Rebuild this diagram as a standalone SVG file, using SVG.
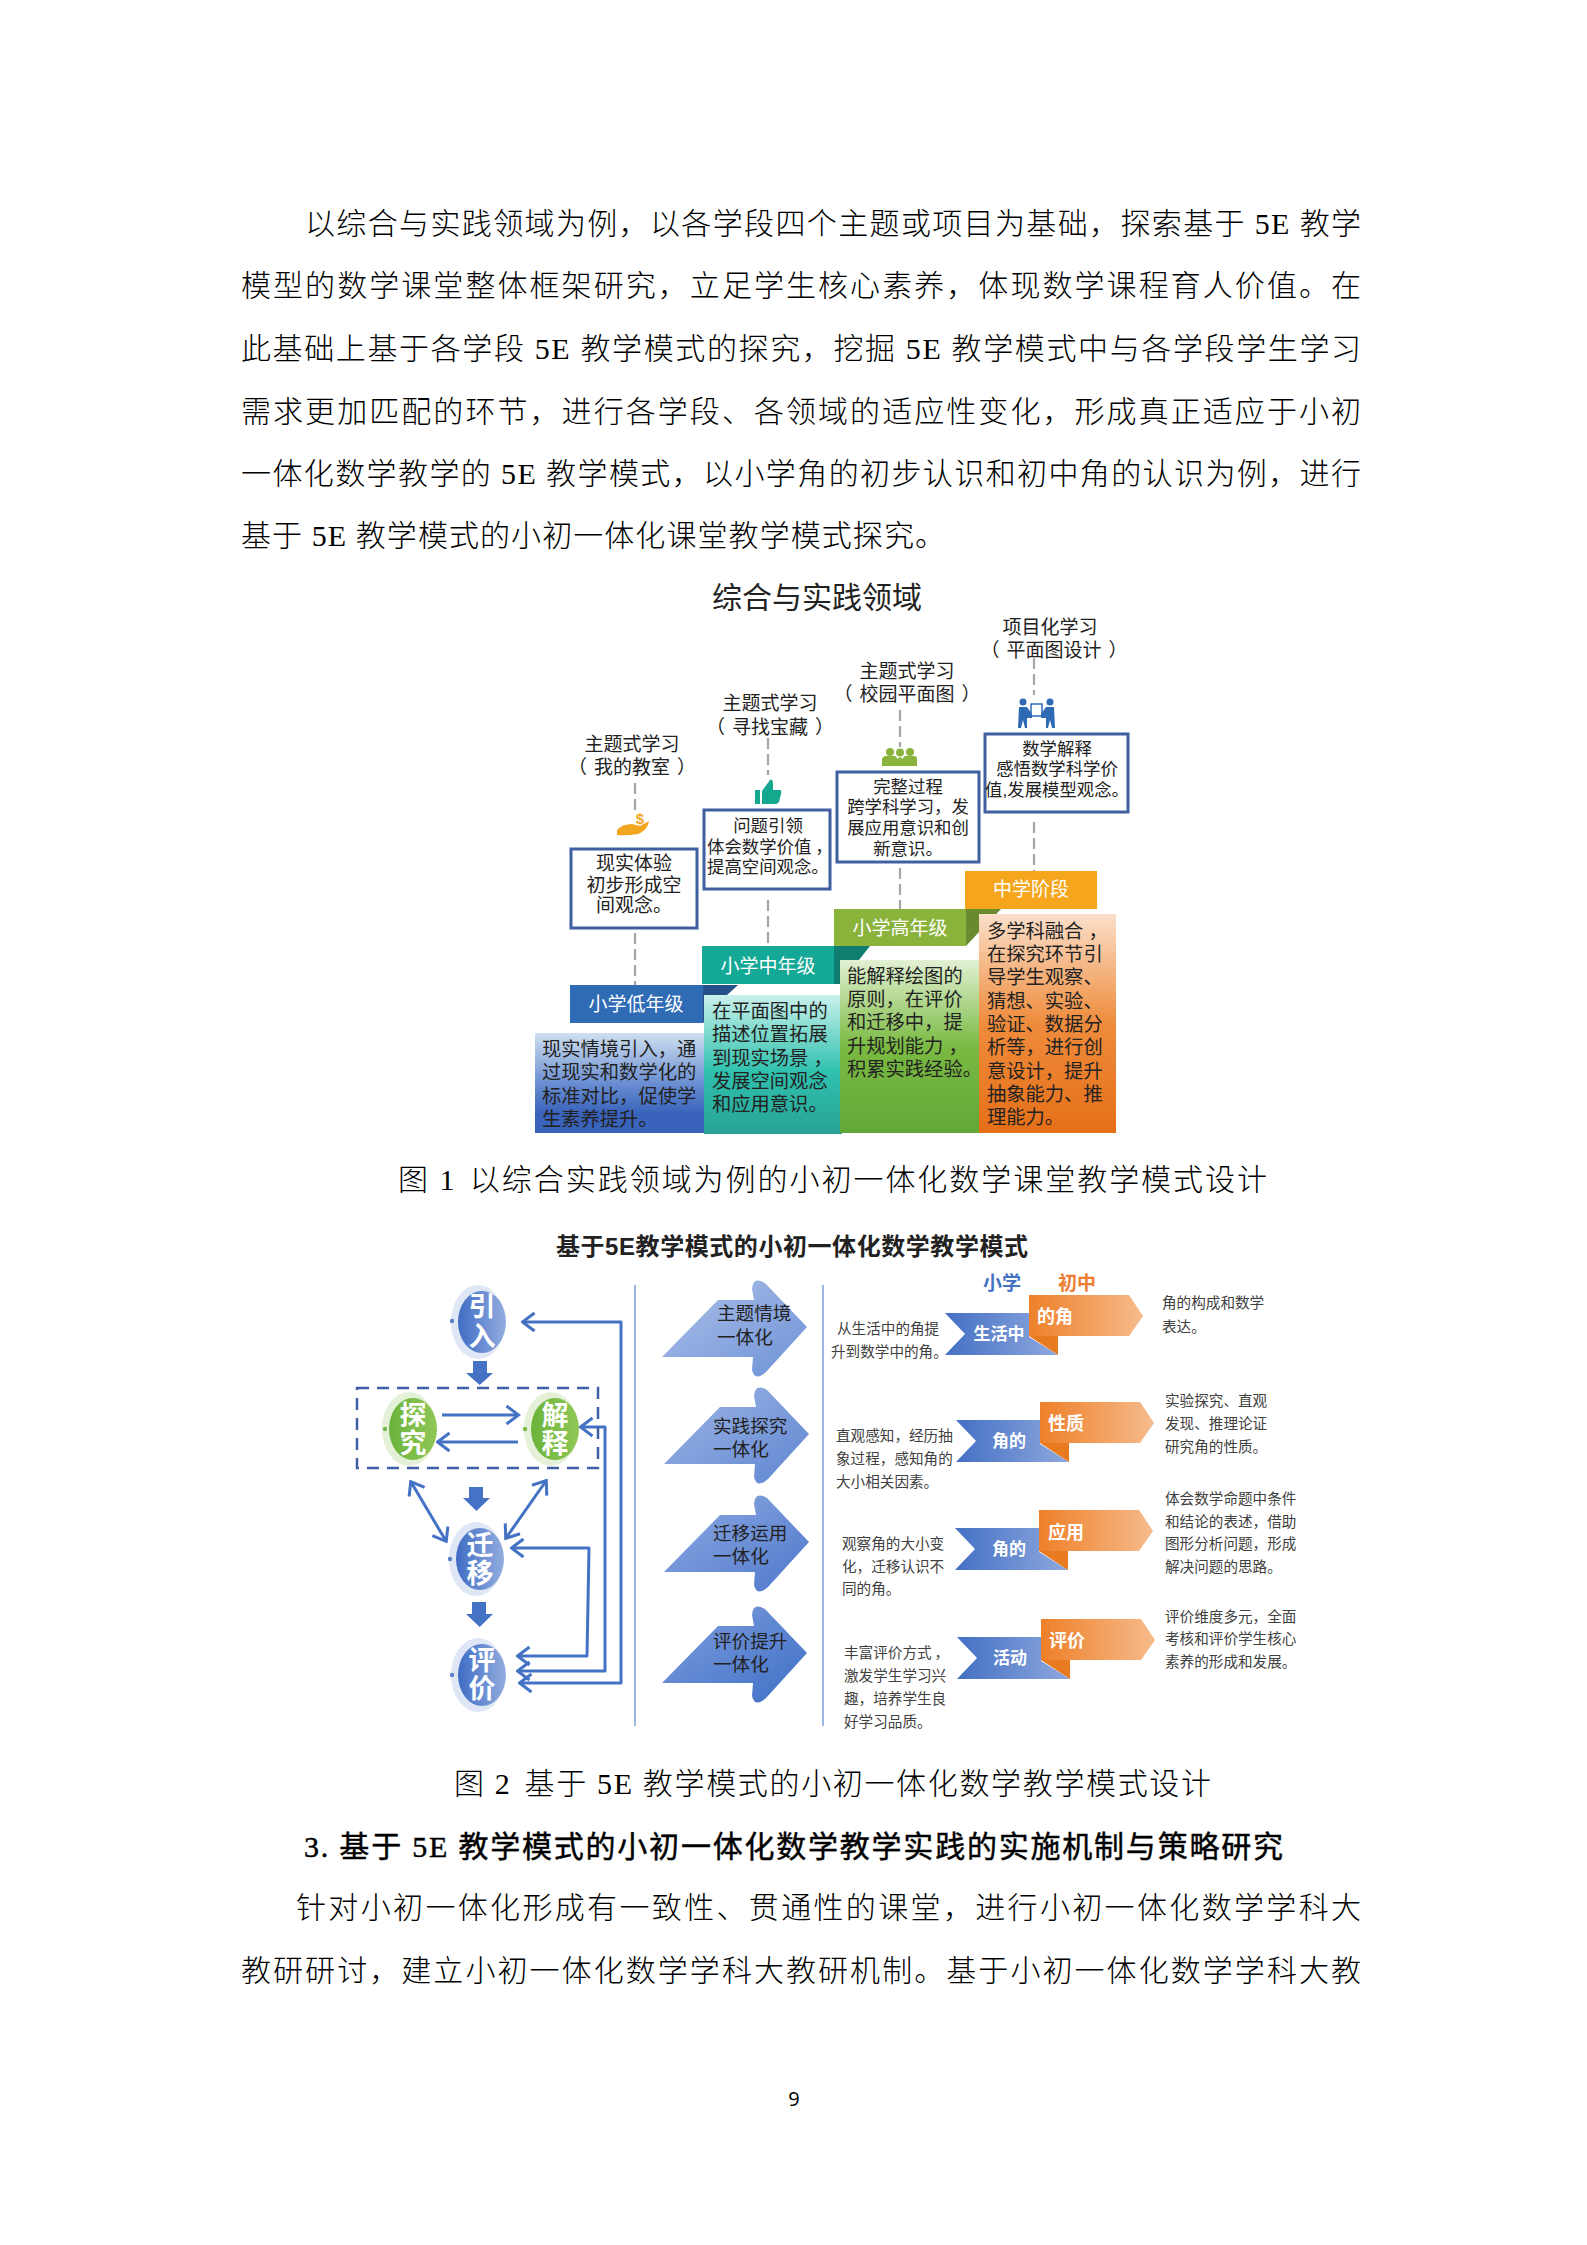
<svg xmlns="http://www.w3.org/2000/svg" width="1587" height="2245" viewBox="0 0 1587 2245">
<style>
text{font-family:"Liberation Sans","Noto Sans CJK SC",sans-serif;fill:#222}
.body text,text.body{font-family:"Liberation Serif","Noto Sans CJK SC",serif;font-size:30px;font-weight:300;fill:#000}
.c{text-anchor:middle}
.lb{font-size:19px}
.bx{font-size:17.4px}
.pn{font-size:19.3px}
.hd{font-size:19px;fill:#fff;text-anchor:middle}
.ar{font-size:18.6px}
.sm{font-size:14.6px;fill:#404040}
.rb{font-weight:700;fill:#fff;text-anchor:middle;font-size:17px}
.rb2{font-weight:700;fill:#fff;text-anchor:middle;font-size:18px}
.ci{font-weight:700;fill:#fff;text-anchor:middle;font-size:27px}
.box{fill:#fff;stroke:#3f5fa0;stroke-width:3}
.dash{fill:none;stroke:#a6a6a6;stroke-width:2.2;stroke-dasharray:11 5}
.cn{fill:none;stroke:#4472c4;stroke-width:3;stroke-linejoin:round}
.blk{fill:#4472c4}
</style>
<defs>
<marker id="oh" markerUnits="userSpaceOnUse" markerWidth="18" markerHeight="22" refX="15.5" refY="11" orient="auto-start-reverse" viewBox="0 0 18 22"><path d="M4,2 L16,11 L4,20" fill="none" stroke="#4472c4" stroke-width="3"/></marker>
<linearGradient id="gb" x1="0" y1="0" x2="0" y2="1"><stop offset="0" stop-color="#cfe0ef"/><stop offset=".5" stop-color="#6b8fd2"/><stop offset=".8" stop-color="#3a63bb"/><stop offset="1" stop-color="#3a63bb"/></linearGradient>
<linearGradient id="gt" x1="0" y1="0" x2="0" y2="1"><stop offset="0" stop-color="#c9f1ec"/><stop offset=".55" stop-color="#30c1ae"/><stop offset="1" stop-color="#27a395"/></linearGradient>
<linearGradient id="gg" x1="0" y1="0" x2="0" y2="1"><stop offset="0" stop-color="#e2f1d3"/><stop offset=".5" stop-color="#7aba42"/><stop offset="1" stop-color="#62a838"/></linearGradient>
<linearGradient id="go" x1="0" y1="0" x2="0" y2="1"><stop offset="0" stop-color="#fbdfca"/><stop offset=".5" stop-color="#ee8c3c"/><stop offset="1" stop-color="#e66f18"/></linearGradient>
<linearGradient id="ecb" x1="0" y1="0" x2="1" y2="0"><stop offset="0" stop-color="#3f6cc4"/><stop offset="1" stop-color="#93addf"/></linearGradient>
<linearGradient id="ecg" x1="0" y1="0" x2="1" y2="0"><stop offset="0" stop-color="#6bb33a"/><stop offset="1" stop-color="#8fc757"/></linearGradient>
<linearGradient id="rbl" x1="0" y1="0" x2="1" y2="0"><stop offset="0" stop-color="#4470c4"/><stop offset="1" stop-color="#8ea8de"/></linearGradient>
<linearGradient id="ror" x1="0" y1="0" x2="1" y2="0"><stop offset="0" stop-color="#ee8029"/><stop offset="1" stop-color="#f6bb8c"/></linearGradient>
<linearGradient id="a1" x1="0" y1="0" x2="1" y2="1"><stop offset="0" stop-color="#adc1e9"/><stop offset="1" stop-color="#6d91d6"/></linearGradient>
<linearGradient id="a2" x1="0" y1="0" x2="1" y2="1"><stop offset="0" stop-color="#9fb6e6"/><stop offset="1" stop-color="#5e85d0"/></linearGradient>
<linearGradient id="a3" x1="0" y1="0" x2="1" y2="1"><stop offset="0" stop-color="#8ea9e1"/><stop offset="1" stop-color="#4f79cc"/></linearGradient>
<linearGradient id="a4" x1="0" y1="0" x2="1" y2="1"><stop offset="0" stop-color="#7f9edd"/><stop offset="1" stop-color="#3f6fc6"/></linearGradient>
<path id="bigarrow" d="M662,1357 L718,1300 L754,1300 L752,1289 Q753,1276 765,1283 L807,1327 L766,1372 Q755,1382 752,1370 L753,1357 Z"/>
<g id="ribbon">
<path d="M945,1313 H1029 V1337 L1058,1355 H945 L965,1334 Z" fill="url(#rbl)"/>
<path d="M1029,1336 H1058 V1355 Z" fill="#e87a20"/>
<path d="M1029,1295 H1129 L1143,1316 L1129,1336 H1029 Z" fill="url(#ror)"/>
</g>
<ellipse id="halob" rx="27" ry="37" fill="#dfe7f6"/>
<ellipse id="haloG" rx="27" ry="37" fill="#e4f0d8"/>
</defs>

<rect width="1587" height="2245" fill="#fff"/>

<g id="body-top" class="body">
<text x="305" y="234" textLength="1056" lengthAdjust="spacing">以综合与实践领域为例，以各学段四个主题或项目为基础，探索基于 5E 教学</text>
<text x="241" y="296" textLength="1120" lengthAdjust="spacing">模型的数学课堂整体框架研究，立足学生核心素养，体现数学课程育人价值。在</text>
<text x="241" y="359" textLength="1120" lengthAdjust="spacing">此基础上基于各学段 5E 教学模式的探究，挖掘 5E 教学模式中与各学段学生学习</text>
<text x="241" y="422" textLength="1120" lengthAdjust="spacing">需求更加匹配的环节，进行各学段、各领域的适应性变化，形成真正适应于小初</text>
<text x="241" y="484" textLength="1120" lengthAdjust="spacing">一体化数学教学的 5E 教学模式，以小学角的初步认识和初中角的认识为例，进行</text>
<text x="241" y="546" textLength="704" lengthAdjust="spacing">基于 5E 教学模式的小初一体化课堂教学模式探究。</text>
</g>

<!-- Figure 1 -->
<g id="fig1-title"><text class="c" x="817" y="608" font-size="30">综合与实践领域</text></g>

<g id="fig1-connectors">
<path class="dash" d="M635,783V815M635,933V985"/>
<path class="dash" d="M768,738V775M768,900V946"/>
<path class="dash" d="M900,710V747M900,868V909"/>
<path class="dash" d="M1034,658V695M1034,822V871"/>
</g>

<g id="stage-low">
<rect x="535" y="1033" width="169" height="100" fill="url(#gb)"/>
<rect x="570" y="985" width="133" height="38" fill="#2f6cb5"/>
<text class="hd" x="636" y="1011">小学低年级</text>
<text class="pn" x="542" y="1056">现实情境引入，通</text><text class="pn" x="542" y="1079">过现实和数学化的</text><text class="pn" x="542" y="1103">标准对比，促使学</text><text class="pn" x="542" y="1126">生素养提升。</text>
</g>
<g id="stage-mid">
<path d="M703,985H738L726,996H703Z" fill="#25508a"/>
<path d="M703,985V1023L710,1017V985Z" fill="#25508a"/>
<rect x="704" y="995" width="138" height="139" fill="url(#gt)"/>
<rect x="702" y="946" width="132" height="38" fill="#14a896"/>
<text class="hd" x="768" y="973">小学中年级</text>
<text class="pn" x="712" y="1018">在平面图中的</text><text class="pn" x="712" y="1041">描述位置拓展</text><text class="pn" x="712" y="1065">到现实场景<tspan dx="5">，</tspan></text><text class="pn" x="712" y="1088">发展空间观念</text><text class="pn" x="712" y="1111">和应用意识。</text>
</g>
<g id="stage-high">
<path d="M834,946H870L840,984L834,984Z" fill="#0f7d70"/>
<rect x="840" y="960" width="139" height="173" fill="url(#gg)"/>
<rect x="834" y="909" width="132" height="37" fill="#8ab33c"/>
<text class="hd" x="900" y="935">小学高年级</text>
<text class="pn" x="847" y="983">能解释绘图的</text><text class="pn" x="847" y="1006">原则，在评价</text><text class="pn" x="847" y="1029">和迁移中，提</text><text class="pn" x="847" y="1053">升规划能力<tspan dx="5">，</tspan></text><text class="pn" x="847" y="1076">积累实践经验。</text>
</g>
<g id="stage-junior">
<path d="M966,909H1001L979,932L966,946Z" fill="#6a8a30"/>
<rect x="979" y="914" width="137" height="219" fill="url(#go)"/>
<rect x="965" y="871" width="132" height="38" fill="#f5a61c"/>
<text class="hd" x="1031" y="896">中学阶段</text>
<text class="pn" x="987" y="938">多学科融合<tspan dx="5">，</tspan></text><text class="pn" x="987" y="961">在探究环节引</text><text class="pn" x="987" y="984">导学生观察、</text><text class="pn" x="987" y="1008">猜想、实验、</text><text class="pn" x="987" y="1031">验证、数据分</text><text class="pn" x="987" y="1054">析等，进行创</text><text class="pn" x="987" y="1078">意设计，提升</text><text class="pn" x="987" y="1101">抽象能力、推</text><text class="pn" x="987" y="1124">理能力。</text>
</g>

<g id="topic-1">
<text class="lb c" x="632" y="751">主题式学习</text><text class="lb c" x="632" y="774">（<tspan dx="7">我的教室</tspan><tspan dx="7">）</tspan></text>
<path d="M617,830Q622,824 632,824L640,826L649,821Q648,830 638,834Q626,836 617,835Z" fill="#f2a51f"/>
<text x="640" y="824" font-size="15" font-weight="700" class="c" style="fill:#f2a51f">$</text>
<rect class="box" x="571" y="849" width="126" height="79"/>
<text class="lb c" x="634" y="870">现实体验</text><text class="lb c" x="634" y="892">初步形成空</text><text class="lb c" x="634" y="912">间观念。</text>
</g>
<g id="topic-2">
<text class="lb c" x="770" y="710">主题式学习</text><text class="lb c" x="770" y="734">（<tspan dx="7">寻找宝藏</tspan><tspan dx="7">）</tspan></text>
<path d="M762,791L770,780Q773,778 773,785V790H780Q782,790 781,794L779,802Q778,804 775,804H762Z" fill="#16a88e"/>
<rect x="755" y="790" width="5" height="14" fill="#16a88e"/>
<rect class="box" x="704" y="810" width="126" height="79"/>
<text class="bx c" x="768" y="832">问题引领</text><text class="bx" x="707" y="853">体会数学价值<tspan dx="4">，</tspan></text><text class="bx" x="707" y="873">提高空间观念。</text>
</g>
<g id="topic-3">
<text class="lb c" x="907" y="678">主题式学习</text><text class="lb c" x="907" y="701">（<tspan dx="7">校园平面图</tspan><tspan dx="7">）</tspan></text>
<g fill="#8ab33c"><circle cx="890" cy="752" r="4"/><circle cx="900" cy="752.5" r="4"/><circle cx="910" cy="752" r="4"/><path d="M882,766V759Q883,756 886,756H894Q897,756 897,759L900,757L903,759Q903,756 906,756H914Q917,756 917,759V766Z"/></g>
<rect class="box" x="837" y="772" width="142" height="90"/>
<text class="bx c" x="908" y="793">完整过程</text><text class="bx c" x="908" y="813">跨学科学习，发</text><text class="bx c" x="908" y="834">展应用意识和创</text><text class="bx c" x="908" y="855">新意识。</text>
</g>
<g id="topic-4">
<text class="lb c" x="1050" y="634">项目化学习</text><text class="lb c" x="1054" y="657">（<tspan dx="7">平面图设计</tspan><tspan dx="7">）</tspan></text>
<g fill="#2f6ab5"><circle cx="1023" cy="702" r="3.5"/><circle cx="1050" cy="702" r="3.5"/><path d="M1019,707H1027L1032,714V718H1027V728H1025L1023,720L1021,728H1018Z"/><path d="M1054,707H1046L1041,714V718H1046V728H1048L1050,720L1052,728H1055Z"/></g>
<rect x="1031" y="704" width="11" height="12" fill="none" stroke="#2f6ab5" stroke-width="1.5"/>
<rect class="box" x="985" y="734" width="143" height="78"/>
<text class="bx c" x="1057" y="755">数学解释</text><text class="bx c" x="1057" y="775">感悟数学科学价</text><text class="bx c" x="1057" y="796">值,发展模型观念。</text>
</g>

<g id="caption-1" class="body"><text x="398" y="1190" textLength="869" lengthAdjust="spacing">图 1 <tspan dx="4">以综合实践领域为例的小初一体化数学课堂教学模式设计</tspan></text></g>

<!-- Figure 2 -->
<g id="fig2-title"><text x="556" y="1255" font-size="24" font-weight="700" fill="#000" textLength="472" lengthAdjust="spacing">基于5E教学模式的小初一体化数学教学模式</text></g>

<g id="yinru"><use href="#halob" x="478" y="1322"/><ellipse cx="482" cy="1322" rx="24" ry="31" fill="url(#ecb)"/><circle cx="452" cy="1321" r="2.2" fill="#5b7fc8"/><text class="ci" x="482" y="1316">引</text><text class="ci" x="482" y="1346">入</text></g>
<g id="tanjiu"><use href="#haloG" x="409" y="1429"/><ellipse cx="413" cy="1429" rx="24" ry="31" fill="url(#ecg)"/><circle cx="385" cy="1429" r="2.2" fill="#7ab648"/><text class="ci" x="413" y="1425">探</text><text class="ci" x="413" y="1453">究</text></g>
<g id="jieshi"><use href="#haloG" x="551" y="1429"/><ellipse cx="555" cy="1429" rx="24" ry="31" fill="url(#ecg)"/><circle cx="525" cy="1429" r="2.2" fill="#7ab648"/><text class="ci" x="555" y="1425">解</text><text class="ci" x="555" y="1453">释</text></g>
<g id="qianyi"><use href="#halob" x="476" y="1559"/><ellipse cx="480" cy="1559" rx="24" ry="31" fill="url(#ecb)"/><circle cx="450" cy="1559" r="2.2" fill="#5b7fc8"/><text class="ci" x="480" y="1555">迁</text><text class="ci" x="480" y="1583">移</text></g>
<g id="pingjia"><use href="#halob" x="478" y="1675"/><ellipse cx="482" cy="1675" rx="24" ry="31" fill="url(#ecb)"/><circle cx="452" cy="1675" r="2.2" fill="#5b7fc8"/><text class="ci" x="482" y="1670">评</text><text class="ci" x="482" y="1698">价</text></g>

<g id="fig2-connectors">
<path class="cn" d="M442,1415H518" marker-end="url(#oh)"/>
<path class="cn" d="M518,1442H438" marker-end="url(#oh)"/>
<path class="cn" d="M411,1482L446,1541" marker-start="url(#oh)" marker-end="url(#oh)"/>
<path class="cn" d="M546,1481L506,1538" marker-start="url(#oh)" marker-end="url(#oh)"/>
<path class="cn" d="M518,1656H587L589,1548H512" marker-start="url(#oh)" marker-end="url(#oh)"/>
<path class="cn" d="M518,1671H605V1427H581" marker-start="url(#oh)" marker-end="url(#oh)"/>
<path class="cn" d="M520,1683H621V1322H523" marker-start="url(#oh)" marker-end="url(#oh)"/>
<path class="blk" d="M473,1361H487V1373H493L479.7,1385L466,1373H473Z"/>
<path class="blk" d="M469,1487H483V1498H490L476.5,1511L463,1498H469Z"/>
<path class="blk" d="M472,1602H486V1614H493L479.7,1627L466,1614H472Z"/>
<rect x="357" y="1388" width="241" height="80" fill="none" stroke="#3e5fa5" stroke-width="2.5" stroke-dasharray="12 8"/>
<path d="M635,1285V1726M823,1285V1726" fill="none" stroke="#7f9fdc" stroke-width="1.5"/>
</g>

<g id="unit-1">
<use href="#bigarrow" fill="url(#a1)"/>
<text class="ar" x="717" y="1320">主题情境</text><text class="ar" x="717" y="1344">一体化</text>
</g>
<g id="unit-2">
<use href="#bigarrow" x="2" y="107" fill="url(#a2)"/>
<text class="ar" x="713" y="1433">实践探究</text><text class="ar" x="713" y="1456">一体化</text>
</g>
<g id="unit-3">
<use href="#bigarrow" x="2" y="215" fill="url(#a3)"/>
<text class="ar" x="713" y="1540">迁移运用</text><text class="ar" x="713" y="1563">一体化</text>
</g>
<g id="unit-4">
<use href="#bigarrow" x="0" y="326" fill="url(#a4)"/>
<text class="ar" x="713" y="1648">评价提升</text><text class="ar" x="713" y="1671">一体化</text>
</g>

<g id="row-1">
<text class="sm" x="837" y="1334">从生活中的角提</text><text class="sm" x="831" y="1357">升到数学中的角。</text>
<use href="#ribbon"/>
<text x="1002" y="1290" font-size="19" font-weight="700" class="c" style="fill:#4472c4">小学</text>
<text x="1077" y="1290" font-size="19" font-weight="700" class="c" style="fill:#ed7d31">初中</text>
<text class="rb" x="999" y="1340">生活中</text><text class="rb2" x="1055" y="1323">的角</text>
<text class="sm" x="1162" y="1308">角的构成和数学</text><text class="sm" x="1162" y="1332">表达。</text>
</g>
<g id="row-2">
<text class="sm" x="836" y="1441">直观感知，经历抽</text><text class="sm" x="836" y="1464">象过程，感知角的</text><text class="sm" x="836" y="1487">大小相关因素。</text>
<use href="#ribbon" x="11" y="107"/>
<text class="rb" x="1009" y="1447">角的</text><text class="rb2" x="1066" y="1430">性质</text>
<text class="sm" x="1165" y="1406">实验探究、直观</text><text class="sm" x="1165" y="1429">发现、推理论证</text><text class="sm" x="1165" y="1452">研究角的性质。</text>
</g>
<g id="row-3">
<text class="sm" x="842" y="1549">观察角的大小变</text><text class="sm" x="842" y="1572">化，迁移认识不</text><text class="sm" x="842" y="1594">同的角。</text>
<use href="#ribbon" x="10" y="215"/>
<text class="rb" x="1009" y="1555">角的</text><text class="rb2" x="1066" y="1539">应用</text>
<text class="sm" x="1165" y="1504">体会数学命题中条件</text><text class="sm" x="1165" y="1527">和结论的表述，借助</text><text class="sm" x="1165" y="1549">图形分析问题，形成</text><text class="sm" x="1165" y="1572">解决问题的思路。</text>
</g>
<g id="row-4">
<text class="sm" x="844" y="1658">丰富评价方式<tspan dx="3">，</tspan></text><text class="sm" x="844" y="1681">激发学生学习兴</text><text class="sm" x="844" y="1704">趣，培养学生良</text><text class="sm" x="844" y="1727">好学习品质。</text>
<use href="#ribbon" x="12" y="324"/>
<text class="rb" x="1010" y="1664">活动</text><text class="rb2" x="1067" y="1647">评价</text>
<text class="sm" x="1165" y="1622">评价维度多元，全面</text><text class="sm" x="1165" y="1644">考核和评价学生核心</text><text class="sm" x="1165" y="1667">素养的形成和发展。</text>
</g>

<g id="body-bottom" class="body">
<text x="454" y="1794" textLength="757" lengthAdjust="spacing">图 2 <tspan dx="4">基于 5E 教学模式的小初一体化数学教学模式设计</tspan></text>
<text x="304" y="1857" textLength="979" lengthAdjust="spacing" style="font-weight:400;stroke:#000;stroke-width:.45">3. <tspan dx="0">基于 5E 教学模式的小初一体化数学教学实践的实施机制与策略研究</tspan></text>
<text x="296" y="1918" textLength="1065" lengthAdjust="spacing">针对小初一体化形成有一致性、贯通性的课堂，进行小初一体化数学学科大</text>
<text x="241" y="1981" textLength="1120" lengthAdjust="spacing">教研研讨，建立小初一体化数学学科大教研机制。基于小初一体化数学学科大教</text>
</g>
<g id="page-number"><text x="794" y="2106" font-size="20" class="c" style="fill:#000;font-family:'Open Sans',sans-serif">9</text></g>
</svg>
